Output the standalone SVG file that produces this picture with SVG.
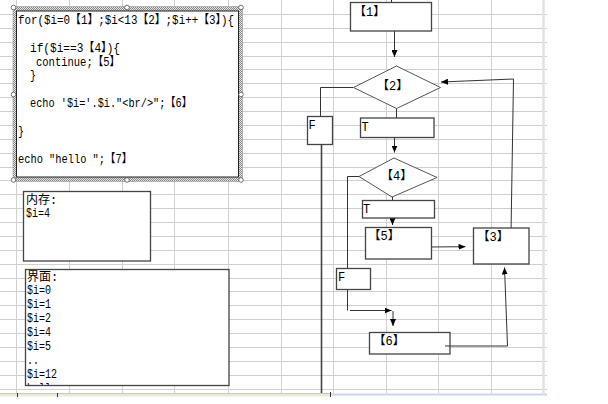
<svg xmlns="http://www.w3.org/2000/svg" width="608" height="404" viewBox="0 0 608 404">
<style>
.m{font-family:"Liberation Mono","Noto Sans CJK SC",monospace;font-size:12px;fill:#000}
.box{fill:#fff;stroke:#444;stroke-width:1.3}
.dia{fill:#fff;stroke:#555;stroke-width:1}
.ln{fill:none;stroke:#333;stroke-width:1}
.grid{fill:none;stroke:#d0d0d0;stroke-width:1}
.hd{fill:#fff;stroke:#555;stroke-width:0.8}
</style>
<defs>
<marker id="ah" markerUnits="userSpaceOnUse" markerWidth="7" markerHeight="6" refX="7" refY="3" orient="auto">
<path d="M0,0 L7,3 L0,6 z" fill="#000"/>
</marker>
<pattern id="hatch" width="2" height="2" patternUnits="userSpaceOnUse">
<rect width="2" height="2" fill="#e4e4e4"/>
<rect width="1" height="1" fill="#888"/>
<rect x="1" y="1" width="1" height="1" fill="#888"/>
</pattern>
<clipPath id="ifc"><rect x="26" y="270" width="202" height="115"/></clipPath>
</defs>
<rect width="608" height="404" fill="#fff"/>
<g id="grid">
<path class="grid" d="M0 14.5H547M0 28.5H547M0 42.5H547M0 56.5H547M0 69.5H547M0 83.5H547M0 97.5H547M0 111.5H547M0 125.5H547M0 139.5H547M0 153.5H547M0 167.5H547M0 180.5H547M0 194.5H547M0 208.5H547M0 222.5H547M0 236.5H547M0 250.5H547M0 264.5H547M0 278.5H547M0 291.5H547M0 305.5H547M0 319.5H547M0 333.5H547M0 347.5H547M0 361.5H547M0 375.5H547M0 389.5H547"/>
<path class="grid" d="M16.5 0V393M69.5 0V393M122.5 0V393M174.5 0V393M228.5 0V393M281.5 0V393M333.5 0V393M386.5 0V393M438.5 0V393M491.5 0V393"/>
<path d="M543.5 0V393" stroke="#e2e2e2" stroke-width="2.5"/>
<path d="M0 393.5H330" stroke="#c8c8c8" stroke-width="1"/>
<rect x="0" y="394" width="330" height="2.5" fill="#ece9d8"/>
<rect x="331" y="393.5" width="216" height="2" fill="#c9d6f0"/>
<path d="M17.5 393V397M57.5 393V397M330.5 392V397" stroke="#333" stroke-width="1"/>
</g>
<g id="code">
<rect x="13" y="6.5" width="229.5" height="175" fill="url(#hatch)" stroke="#999" stroke-width="0.6"/>
<rect x="16.5" y="11" width="222" height="166" fill="#fff" stroke="#222" stroke-width="1"/>
<circle class="hd" cx="13.5" cy="7.5" r="2.3"/>
<circle class="hd" cx="127" cy="7.5" r="2.3"/>
<circle class="hd" cx="241" cy="7.5" r="2.3"/>
<circle class="hd" cx="13.5" cy="94.5" r="2.3"/>
<circle class="hd" cx="241" cy="94.5" r="2.3"/>
<circle class="hd" cx="13.5" cy="180" r="2.3"/>
<circle class="hd" cx="127" cy="180" r="2.3"/>
<circle class="hd" cx="241" cy="180" r="2.3"/>
<text class="m" x="18" y="24" textLength="216" lengthAdjust="spacingAndGlyphs">for($i=0【1】;$i&lt;13【2】;$i++【3】){</text>
<text class="m" x="30" y="51.5" textLength="90" lengthAdjust="spacingAndGlyphs">if($i==3【4】){</text>
<text class="m" x="36" y="65.5" textLength="84" lengthAdjust="spacingAndGlyphs">continue;【5】</text>
<text class="m" x="30" y="79" textLength="6" lengthAdjust="spacingAndGlyphs">}</text>
<text class="m" x="30" y="107" textLength="162" lengthAdjust="spacingAndGlyphs">echo '$i='.$i."&lt;br/&gt;";【6】</text>
<text class="m" x="18" y="135" textLength="6" lengthAdjust="spacingAndGlyphs">}</text>
<text class="m" x="18" y="163" textLength="114" lengthAdjust="spacingAndGlyphs">echo "hello ";【7】</text>
</g>
<g id="memory">
<rect class="box" x="23.5" y="191.5" width="127" height="69.5"/>
<text class="m" x="26" y="203.5">内存:</text>
<text class="m" x="26" y="217" textLength="24" lengthAdjust="spacingAndGlyphs">$i=4</text>
</g>
<g id="interface">
<rect class="box" x="25.5" y="269.5" width="203.5" height="116"/>
<text class="m" x="27" y="280.5">界面:</text>
<text class="m" x="27" y="294.4" textLength="24" lengthAdjust="spacingAndGlyphs">$i=0</text>
<text class="m" x="27" y="308.3" textLength="24" lengthAdjust="spacingAndGlyphs">$i=1</text>
<text class="m" x="27" y="322.2" textLength="24" lengthAdjust="spacingAndGlyphs">$i=2</text>
<text class="m" x="27" y="336.1" textLength="24" lengthAdjust="spacingAndGlyphs">$i=4</text>
<text class="m" x="27" y="350" textLength="24" lengthAdjust="spacingAndGlyphs">$i=5</text>
<text class="m" x="27" y="363.9" textLength="12" lengthAdjust="spacingAndGlyphs">..</text>
<text class="m" x="27" y="377.8" textLength="30" lengthAdjust="spacingAndGlyphs">$i=12</text>
<text class="m" x="27" y="391.7" textLength="30" lengthAdjust="spacingAndGlyphs" clip-path="url(#ifc)">hello</text>
</g>
<g id="connectors">
<path class="ln" d="M391.5 0V2.5"/>
<path class="ln" d="M394.5 31V57" marker-end="url(#ah)"/>
<path class="ln" d="M511 233L513.5 79L441 82" marker-end="url(#ah)"/>
<path class="ln" d="M353 87.5H320.5V116"/>
<path d="M321.5 144V393" fill="none" stroke="#444" stroke-width="1.6"/>
<path class="ln" d="M396.5 108V118"/>
<path class="ln" d="M394.5 137.5V152.5" marker-end="url(#ah)"/>
<path class="ln" d="M359 176.5H347.5V268.5"/>
<path class="ln" d="M392.5 197V200"/>
<path class="ln" d="M392.5 218V225" marker-end="url(#ah)"/>
<path class="ln" d="M393 247.3L465.5 246.7" marker-end="url(#ah)"/>
<path class="ln" d="M347.5 289.5V310.5"/>
<path class="ln" d="M350 310.5H391.5" marker-end="url(#ah)"/>
<path class="ln" d="M393 311V326" marker-end="url(#ah)"/>
<path class="ln" d="M445 346H507.5L504.5 267.5" marker-end="url(#ah)"/>
</g>
<g id="n1">
<rect class="box" x="350.5" y="2.5" width="81" height="28.5"/>
<text class="m" x="354" y="16">【1】</text>
</g>
<g id="d2">
<polygon class="dia" points="353.5,87.5 396.5,66 440.5,87.5 396.5,108.5"/>
<text class="m" x="377" y="90">【2】</text>
</g>
<g id="fF1">
<rect class="box" x="307.5" y="116.5" width="25" height="28"/>
<text class="m" x="308.5" y="128.5">F</text>
</g>
<g id="t1">
<rect class="box" x="360.5" y="118" width="73.5" height="19.5"/>
<text class="m" x="361.5" y="130.5">T</text>
</g>
<g id="d4">
<polygon class="dia" points="359,176.5 394,158 437,177.5 392,197"/>
<text class="m" x="381" y="180">【4】</text>
</g>
<g id="t2">
<rect class="box" x="362.5" y="200.5" width="72" height="17.5"/>
<text class="m" x="363" y="212.5">T</text>
</g>
<g id="n5">
<rect class="box" x="365.5" y="227.5" width="66" height="31.5"/>
<text class="m" x="368.5" y="240">【5】</text>
</g>
<g id="n3">
<rect class="box" x="473.5" y="228" width="55.5" height="36"/>
<text class="m" x="477.5" y="241">【3】</text>
</g>
<g id="fF2">
<rect class="box" x="336.5" y="268.5" width="34" height="21"/>
<text class="m" x="338" y="281">F</text>
</g>
<g id="n6">
<rect class="box" x="369.5" y="332.5" width="80.5" height="21.5"/>
<text class="m" x="373.5" y="345">【6】</text>
</g>
<path class="ln" d="M445 346H450"/>
</svg>
